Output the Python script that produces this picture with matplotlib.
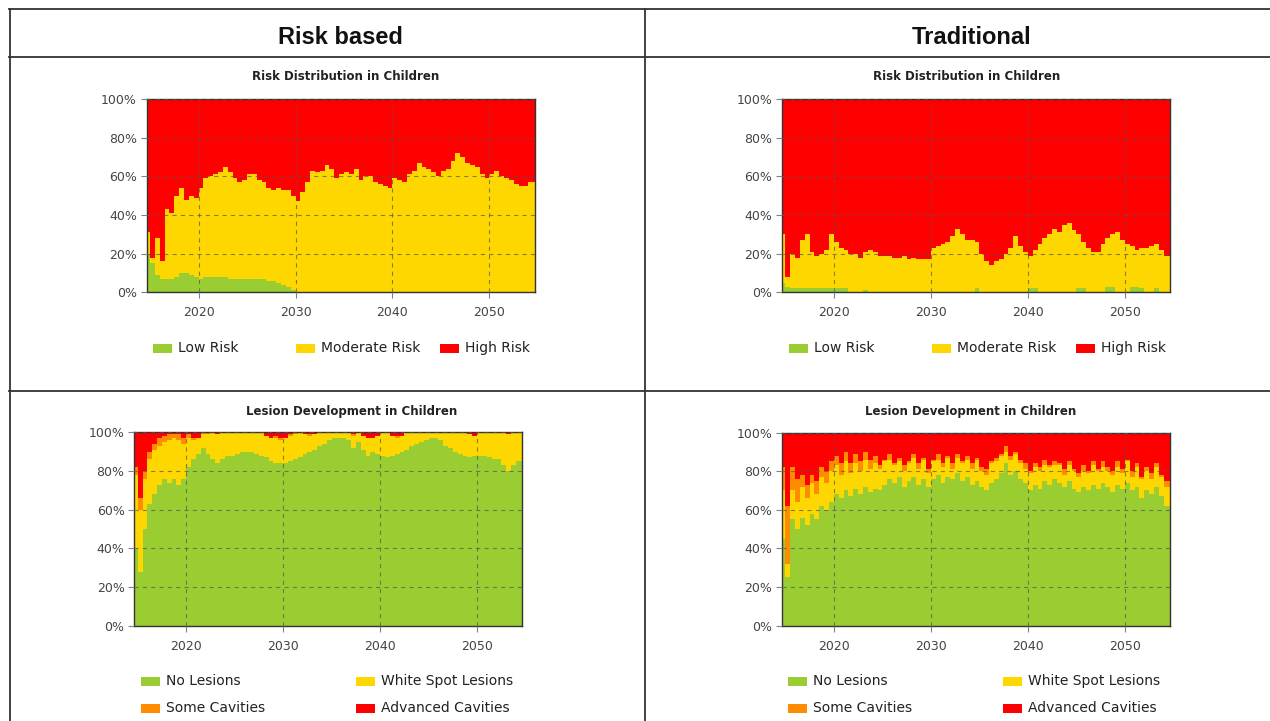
import numpy as np
import matplotlib
matplotlib.use("Agg")
import matplotlib.pyplot as plt
from matplotlib.patches import Rectangle
from matplotlib.lines import Line2D

plt.rcParams["font.family"] = ["DejaVu Sans"]
plt.rcParams["lines.scale_dashes"] = False

# ---- time axis: half-year simulation steps ----
years = 2014.5 + 0.5 * np.arange(81)

# ---- Risk based: risk distribution (% of children) ----
rb_low_risk = [20, 15, 9, 7, 7, 7, 8, 10, 10, 9,
               8, 7, 8, 8, 8, 8, 8, 7, 7, 7,
               7, 7, 7, 7, 7, 6, 6, 5, 4, 3,
               1, 0, 0, 0, 0, 0, 0, 0, 0, 0,
               0, 0, 0, 0, 0, 0, 0, 0, 0, 0,
               0, 0, 0, 0, 0, 0, 0, 0, 0, 0,
               0, 0, 0, 0, 0, 0, 0, 0, 0, 0,
               0, 0, 0, 0, 0, 0, 0, 0, 0, 0, 0]
rb_moderate_risk = [11, 3, 19, 9, 36, 34, 42, 44, 38, 41,
                    41, 47, 51, 52, 53, 54, 57, 55, 52, 50,
                    51, 54, 54, 51, 50, 48, 47, 49, 49, 50,
                    49, 47, 52, 57, 63, 62, 63, 66, 64, 59,
                    61, 62, 61, 64, 58, 60, 60, 57, 56, 55,
                    54, 59, 58, 57, 61, 63, 67, 65, 64, 62,
                    60, 63, 64, 68, 72, 70, 67, 66, 65, 61,
                    59, 61, 63, 60, 59, 58, 56, 55, 55, 57, 57]

# ---- Traditional: risk distribution (% of children) ----
tr_low_risk = [5, 3, 2, 2, 2, 2, 2, 2, 2, 2,
               2, 2, 2, 2, 0, 0, 0, 1, 0, 0,
               0, 0, 0, 0, 0, 0, 0, 0, 0, 0,
               0, 0, 0, 0, 0, 0, 0, 0, 0, 0,
               2, 0, 0, 0, 0, 0, 0, 0, 0, 0,
               0, 2, 2, 0, 0, 0, 0, 0, 0, 0,
               0, 2, 2, 0, 0, 0, 0, 3, 3, 0,
               0, 0, 3, 3, 2, 0, 0, 2, 0, 0, 0]
tr_moderate_risk = [25, 5, 18, 16, 25, 28, 19, 17, 18, 20,
                    28, 24, 21, 20, 20, 20, 18, 20, 22, 21,
                    19, 19, 19, 18, 18, 19, 17, 18, 17, 17,
                    17, 23, 24, 25, 26, 29, 33, 30, 27, 27,
                    24, 20, 16, 14, 16, 17, 20, 23, 29, 24,
                    21, 17, 20, 25, 28, 30, 33, 31, 35, 36,
                    32, 28, 24, 23, 21, 21, 25, 25, 27, 31,
                    27, 25, 21, 19, 21, 23, 24, 23, 22, 19, 19]

# ---- Risk based: lesion development (% of children) ----
rb_no_lesions = [40, 28, 50, 63, 68, 73, 76, 74, 76, 73,
                 76, 82, 86, 89, 92, 89, 86, 84, 86, 88,
                 88, 89, 90, 90, 90, 89, 88, 87, 85, 84,
                 84, 84, 85, 86, 87, 89, 90, 91, 93, 94,
                 96, 97, 97, 97, 96, 92, 95, 91, 88, 90,
                 89, 88, 87, 88, 89, 90, 91, 93, 94, 95,
                 96, 97, 97, 96, 93, 92, 90, 89, 88, 87,
                 88, 88, 88, 87, 86, 86, 83, 80, 83, 85, 85]
rb_white_spot = [38, 32, 26, 23, 23, 20, 19, 22, 21, 23,
                 18, 15, 10, 8, 7, 10, 14, 15, 14, 12,
                 12, 11, 10, 10, 10, 11, 12, 11, 12, 13,
                 12, 13, 13, 13, 13, 10, 8, 8, 7, 6,
                 4, 3, 3, 3, 4, 6, 5, 7, 9, 7,
                 9, 12, 13, 10, 8, 8, 9, 7, 6, 5,
                 4, 3, 3, 4, 7, 8, 10, 11, 12, 12,
                 10, 12, 12, 13, 14, 14, 17, 19, 17, 15, 15]
rb_some_cavities = [4, 6, 4, 4, 3, 4, 3, 3, 2, 3,
                    3, 2, 1, 0, 1, 1, 0, 0, 0, 0,
                    0, 0, 0, 0, 0, 0, 0, 0, 0, 1,
                    1, 0, 1, 1, 0, 0, 1, 0, 0, 0,
                    0, 0, 0, 0, 0, 1, 0, 0, 0, 0,
                    0, 0, 0, 0, 1, 0, 0, 0, 0, 0,
                    0, 0, 0, 0, 0, 0, 0, 0, 0, 0,
                    0, 0, 0, 0, 0, 0, 0, 0, 0, 0, 0]

# ---- Traditional: lesion development (% of children) ----
tr_no_lesions = [45, 25, 55, 50, 56, 52, 58, 55, 62, 60,
                 64, 68, 66, 70, 67, 71, 68, 72, 69, 71,
                 70, 73, 76, 74, 77, 72, 75, 77, 73, 76,
                 72, 76, 78, 74, 77, 76, 79, 75, 77, 73,
                 75, 72, 70, 74, 76, 79, 84, 78, 80, 76,
                 74, 70, 73, 71, 75, 73, 76, 74, 72, 75,
                 71, 69, 72, 70, 73, 71, 74, 72, 69, 73,
                 71, 74, 70, 72, 66, 70, 68, 72, 67, 62, 62]
tr_white_spot = [25, 7, 15, 14, 16, 14, 16, 13, 15, 14,
                 16, 15, 12, 15, 12, 13, 12, 14, 12, 13,
                 11, 12, 10, 9, 8, 8, 9, 10, 8, 10,
                 7, 9, 8, 8, 10, 5, 8, 9, 9, 8,
                 11, 8, 8, 10, 9, 9, 6, 8, 9, 8,
                 7, 9, 9, 9, 8, 9, 7, 9, 6, 8,
                 9, 8, 8, 9, 10, 9, 8, 8, 9, 9,
                 8, 11, 7, 10, 10, 10, 8, 10, 10, 10, 10]
tr_some_cavities = [12, 30, 12, 12, 6, 7, 4, 7, 5, 6,
                    5, 5, 6, 5, 5, 5, 5, 4, 5, 4,
                    2, 1, 3, 1, 2, 3, 1, 2, 3, 1,
                    2, 1, 3, 2, 1, 3, 2, 1, 2, 3,
                    1, 2, 3, 1, 2, 1, 3, 2, 1, 2,
                    3, 1, 2, 2, 3, 1, 2, 1, 3, 2,
                    1, 2, 3, 1, 2, 1, 3, 2, 2, 3,
                    2, 1, 3, 2, 1, 2, 3, 2, 1, 3, 3]

risk_labels = ["Low Risk", "Moderate Risk", "High Risk"]
lesion_labels = ["No Lesions", "White Spot Lesions", "Some Cavities", "Advanced Cavities"]
risk_colors = ["#9ACD32", "#FFD700", "#FF0000"]
lesion_colors = ["#9ACD32", "#FFD700", "#FF8C00", "#FF0000"]

W, H = 1270, 721
fig = plt.figure(figsize=(W / 100, H / 100), dpi=100)
fig.patch.set_facecolor("white")


def fx(px):
    return px / W


def fy(py):
    return 1 - py / H


def stacked_steps(ax, lower_layers, colors):
    """Stack the given shares; the last band fills up to 100 %."""
    x = np.append(years, years[-1] + 0.5)
    tops = np.cumsum([np.append(v, v[-1]) for v in lower_layers], axis=0)
    levels = list(tops) + [np.full(len(x), 100.0)]
    # paint from the top band down so neighbouring bands never leave seams
    for level, col in reversed(list(zip(levels, colors))):
        ax.fill_between(x, 0, level, step="post", color=col, lw=0, zorder=0.5)


def style_axes(ax):
    ax.set_xlim(2014.65, 2054.65)
    ax.set_ylim(0, 100)
    ax.set_xticks([2020, 2030, 2040, 2050])
    ax.set_yticks([0, 20, 40, 60, 80, 100])
    ax.set_yticklabels([f"{v}%" for v in range(0, 101, 20)])
    ax.tick_params(axis="both", direction="out", length=4, width=0.8,
                   color="#808080", labelcolor="#444444", labelsize=9, pad=3)
    ax.tick_params(axis="x", pad=6)
    ax.set_axisbelow(False)
    ax.grid(True, color="#555555", alpha=0.7, lw=0.8, linestyle=(0, (3, 3)))
    for sp in ax.spines.values():
        sp.set_color("#333333")
        sp.set_linewidth(1.0)


def legend_item(px, py, color, text):
    fig.patches.append(Rectangle((fx(px), fy(py + 4.5)), 19 / W, 9 / H,
                                 transform=fig.transFigure, facecolor=color,
                                 edgecolor="none"))
    fig.text(fx(px + 25), fy(py), text, ha="left", va="center",
             fontsize=10, color="#222222")


panels = [
    # (axes rect px: left, top, right, bottom), title, title centre, shares, colours
    ((146.7, 99, 534.5, 292.3), "Risk Distribution in Children", (346, 77),
     [rb_low_risk, rb_moderate_risk], risk_colors),
    ((782, 99, 1170, 292.3), "Risk Distribution in Children", (967, 77),
     [tr_low_risk, tr_moderate_risk], risk_colors),
    ((134.3, 432.3, 522.3, 625.7), "Lesion Development in Children", (352, 412),
     [rb_no_lesions, rb_white_spot, rb_some_cavities], lesion_colors),
    ((782, 432.5, 1170, 625.7), "Lesion Development in Children", (971, 412),
     [tr_no_lesions, tr_white_spot, tr_some_cavities], lesion_colors),
]

for (l, t, r, b), title, (tx, ty), shares, cols in panels:
    ax = fig.add_axes([fx(l), fy(b), (r - l) / W, (b - t) / H])
    stacked_steps(ax, shares, cols)
    style_axes(ax)
    fig.text(fx(tx), fy(ty), title, ha="center", va="center",
             fontsize=8.5, fontweight="bold", color="#222222")

# legends
for x0 in (153, 789):
    for dx, col, lab in zip((0, 143, 287), risk_colors, risk_labels):
        legend_item(x0 + dx, 348, col, lab)
for x0, x1 in ((141, 356), (788, 1003)):
    legend_item(x0, 681, lesion_colors[0], lesion_labels[0])
    legend_item(x1, 681, lesion_colors[1], lesion_labels[1])
    legend_item(x0, 708, lesion_colors[2], lesion_labels[2])
    legend_item(x1, 708, lesion_colors[3], lesion_labels[3])

# column headers
fig.text(fx(340), fy(37), "Risk based", ha="center", va="center",
         fontsize=17, fontweight="bold", family="Liberation Sans", color="#111111")
fig.text(fx(972), fy(37), "Traditional", ha="center", va="center",
         fontsize=17, fontweight="bold", family="Liberation Sans", color="#111111")

# table frame
frame = dict(color="#333333", lw=1.3, transform=fig.transFigure)
fig.lines.append(Line2D([fx(9), 1], [fy(8.5), fy(8.5)], **frame))
fig.lines.append(Line2D([fx(9), 1], [fy(56.5), fy(56.5)], **frame))
fig.lines.append(Line2D([fx(9), 1], [fy(390.5), fy(390.5)], **frame))
fig.lines.append(Line2D([fx(9.5), fx(9.5)], [fy(8.5), 0], **frame))
fig.lines.append(Line2D([fx(644.5), fx(644.5)], [fy(8.5), 0], **frame))

fig.savefig("out.png", dpi=100, facecolor="white")
